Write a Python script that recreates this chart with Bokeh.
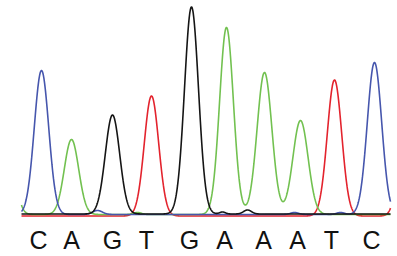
import numpy as np
from bokeh.plotting import figure
from bokeh.models import ColumnDataSource, Range1d
from bokeh.core.properties import value
from bokeh.embed import file_html
from bokeh.resources import INLINE

# Base calls shown under the trace
bases = ["C", "A", "G", "T", "G", "A", "A", "A", "T", "C"]
call_pos = [38, 71, 112, 146, 189, 224, 263, 297, 331, 371]

# Peaks per channel: (position, height, sigma)
peaks_A = [(8, 70, 6.5), (71, 75, 7.2), (137, 2, 4), (226, 187, 6.9), (264, 142, 7.4), (300, 94, 7.6)]
peaks_C = [(41, 144, 7.2), (97, 4, 5), (294, 2, 4), (340, 2, 4), (374, 152, 7.2)]
peaks_G = [(112, 99, 7.2), (191, 207, 7.0), (222, 2, 3), (247, 4, 4)]
peaks_T = [(151, 120, 7.2), (334, 136, 7.2), (404, 80, 6.5)]

baseline = {"A": 1.0, "C": 1.0, "G": 1.5, "T": -0.5}
colors = {"A": "#72c150", "C": "#4656ad", "G": "#151515", "T": "#e3232d"}

x = np.linspace(21, 390, 1200)

def trace(peaks, base):
    y = np.full_like(x, base)
    for pos, h, s in peaks:
        y += h * np.exp(-((x - pos) ** 2) / (2 * s * s))
    return y

p = figure(width=397, height=256, output_backend="svg", toolbar_location=None,
           x_range=Range1d(0, 397), y_range=Range1d(-41, 215),
           min_border=0, outline_line_color=None)
p.axis.visible = False
p.grid.visible = False
p.background_fill_color = "white"
p.border_fill_color = "white"

for ch, pk in [("T", peaks_T), ("A", peaks_A), ("C", peaks_C), ("G", peaks_G)]:
    p.line(x, trace(pk, baseline[ch]), line_color=colors[ch], line_width=1.6)

src = ColumnDataSource(dict(x=call_pos, y=[-24] * len(bases), t=bases))
p.text(x="x", y="y", text="t", source=src, text_align="center", text_baseline="middle",
       text_font=value("Liberation Sans"), text_font_size="25px", text_color="#111111")

open("out.html", "w").write(file_html(p, INLINE))
